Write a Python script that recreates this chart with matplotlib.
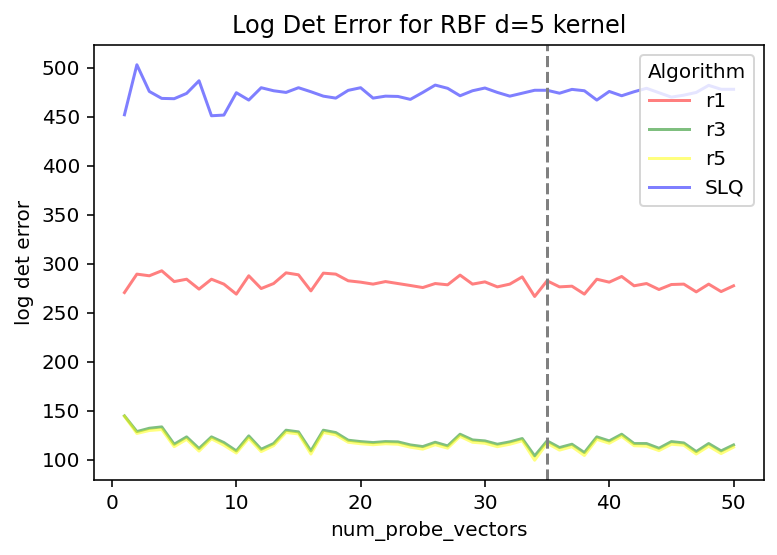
import matplotlib
matplotlib.use("Agg")
import matplotlib.pyplot as plt

num_probe_vectors = list(range(1, 51))

r1 = [270.7, 289.5, 287.8, 292.9, 281.9, 284.3, 274.2, 284.3, 279.3, 269.1,
      287.8, 274.8, 279.9, 290.8, 288.8, 272.4, 290.5, 289.5, 282.7, 281.3,
      279.3, 281.9, 279.9, 277.9, 275.8, 279.9, 278.6, 288.5, 279.3, 281.6,
      276.5, 279.3, 286.7, 266.7, 282.7, 276.5, 277.2, 269.1, 284.3, 281.3,
      287.1, 277.6, 279.9, 273.8, 278.9, 279.3, 271.4, 279.3, 271.7, 277.6]

r3 = [144.9, 128.9, 132.3, 133.7, 116.0, 123.5, 111.6, 123.5, 117.7, 109.2,
      124.5, 110.9, 116.7, 130.3, 128.6, 109.2, 130.3, 127.9, 120.1, 118.7,
      117.7, 118.7, 118.4, 115.3, 113.6, 118.0, 114.3, 126.2, 120.4, 119.4,
      116.0, 118.4, 121.8, 104.1, 119.4, 112.6, 116.0, 107.5, 123.5, 119.4,
      126.2, 116.7, 116.7, 111.9, 118.7, 117.3, 108.5, 116.7, 109.2, 115.3]

r5 = [144.5, 127.0, 130.0, 131.0, 113.5, 121.0, 109.0, 121.5, 115.0, 107.0,
      122.0, 108.5, 114.5, 128.0, 126.5, 106.0, 128.0, 125.5, 118.0, 116.5,
      115.5, 116.5, 116.0, 113.0, 111.0, 115.5, 112.0, 124.0, 118.0, 117.0,
      113.5, 116.0, 119.5, 99.7, 117.0, 110.0, 113.5, 104.5, 121.0, 117.0,
      124.0, 114.5, 114.0, 109.5, 116.0, 115.0, 106.0, 114.0, 106.5, 113.0]

slq = [452.0, 503.0, 475.8, 468.7, 468.4, 473.8, 486.7, 451.0, 451.7, 474.5,
       467.0, 479.6, 476.5, 474.8, 479.6, 475.5, 471.0, 469.0, 476.9, 479.6,
       469.0, 471.0, 470.7, 467.7, 474.8, 482.3, 479.0, 471.4, 476.5, 479.3,
       474.8, 471.0, 474.0, 477.0, 477.0, 474.0, 477.9, 476.5, 467.0, 475.8,
       471.4, 475.5, 479.0, 474.5, 470.0, 472.0, 474.8, 482.0, 478.0, 478.0]

series_names = ["r1", "r3", "r5", "SLQ"]
series_values = [r1, r3, r5, slq]
colors = ["red", "green", "yellow", "blue"]

fig = plt.figure(figsize=(777 / 144, 555 / 144), dpi=144)
ax = fig.add_axes([94 / 777, 1 - 480 / 555, (764 - 94) / 777, (480 - 45) / 555])

for name, vals, c in zip(series_names, series_values, colors):
    ax.plot(num_probe_vectors, vals, color=c, alpha=0.5, lw=1.5, label=name)

ax.axvline(35, color="gray", linestyle="--", lw=1.5)

ax.set_title("Log Det Error for RBF d=5 kernel")
ax.set_xlabel("num_probe_vectors")
ax.set_ylabel("log det error")
ax.set_xticks([0, 10, 20, 30, 40, 50])
ax.set_yticks([100, 150, 200, 250, 300, 350, 400, 450, 500])
ax.legend(title="Algorithm", loc="upper right")

fig.savefig("out.png", dpi=144)
